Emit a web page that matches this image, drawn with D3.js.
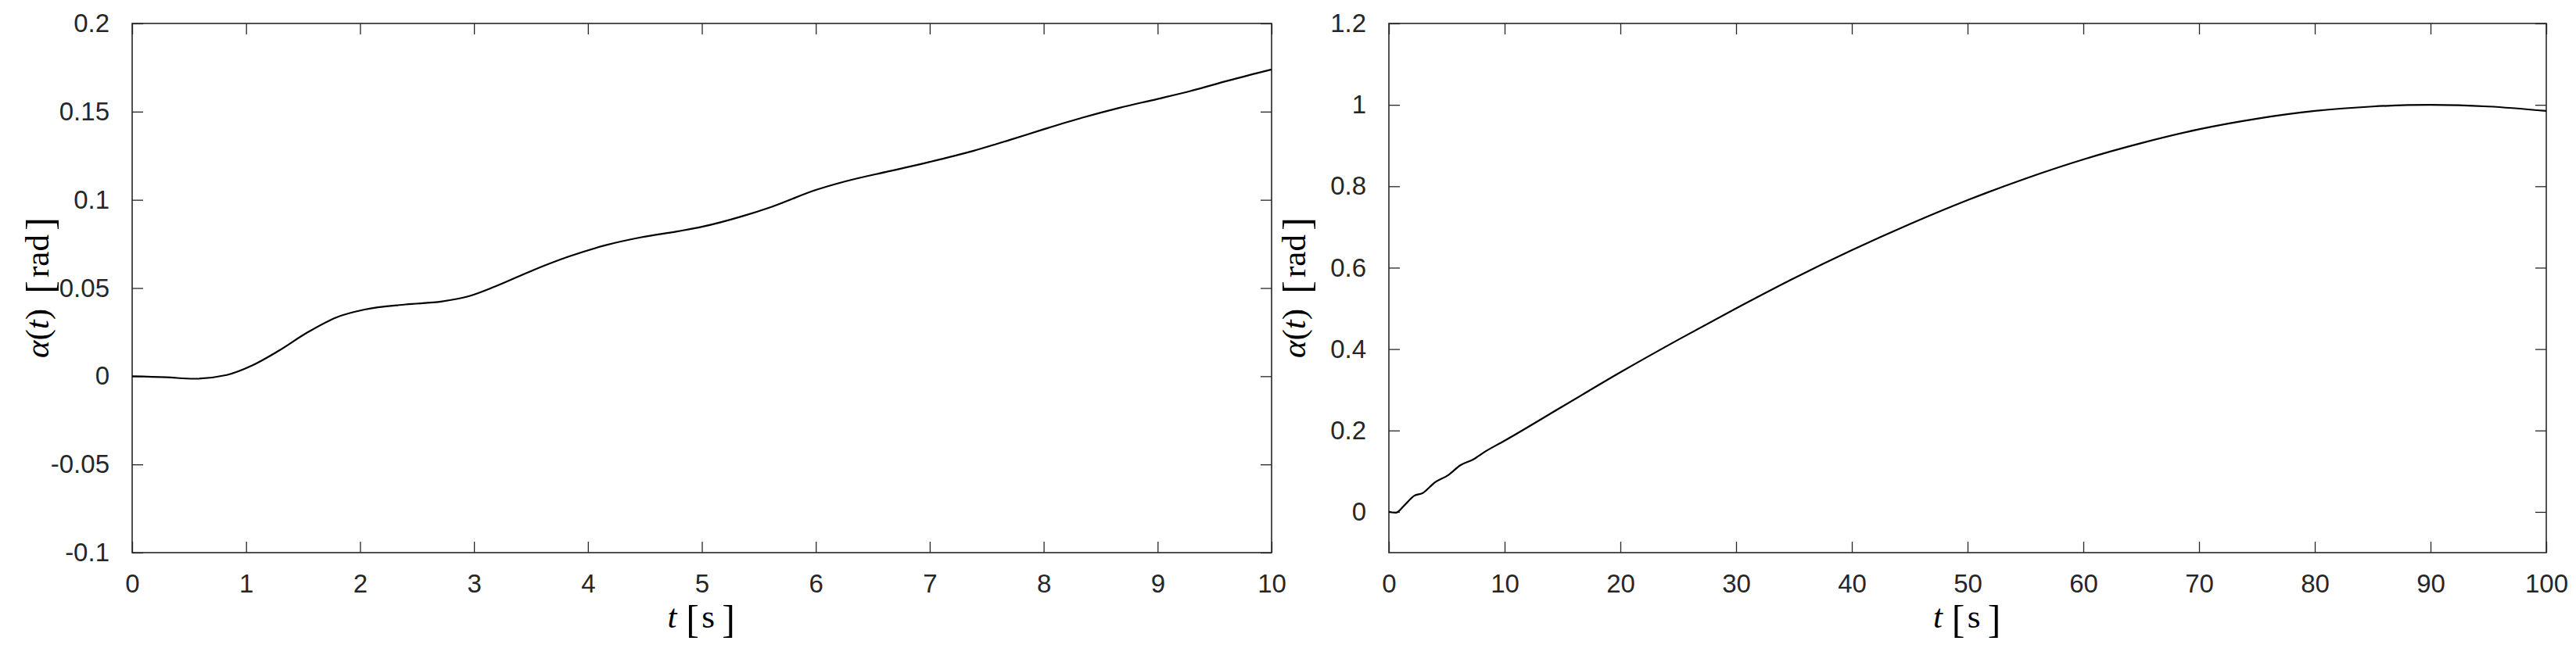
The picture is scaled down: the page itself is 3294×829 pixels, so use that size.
<!DOCTYPE html>
<html>
<head>
<meta charset="utf-8">
<script src="https://cdn.jsdelivr.net/npm/d3@7/dist/d3.min.js"></script>
<style>
  html, body { margin: 0; padding: 0; background: #fff; }
  svg { display: block; }
</style>
</head>
<body>
<svg id="chart" width="3294" height="829"></svg>
<script>
// ---------- data ----------
const leftT = [0, 0.3, 0.54, 0.83, 1.05, 1.28, 1.53, 1.79, 2.04, 2.4, 2.72, 2.94, 3.19, 3.51, 3.83, 4.15, 4.47, 4.79, 5.0, 5.36, 5.61, 6.0, 6.26, 6.64, 7.0, 7.38, 7.7, 8.0, 8.34, 8.66, 9.0, 9.3, 9.62, 10];
const leftAlpha = [0, -0.0006, -0.0014, 0.0007, 0.006, 0.0142, 0.0245, 0.0333, 0.0378, 0.0407, 0.0424, 0.0451, 0.051, 0.0599, 0.0678, 0.0742, 0.0788, 0.0822, 0.0847, 0.0908, 0.096, 0.1056, 0.1105, 0.1162, 0.1215, 0.1277, 0.1339, 0.14, 0.1466, 0.1521, 0.1572, 0.1619, 0.1676, 0.1739];

const rightT = [0, 0.6, 1.3, 2.2, 2.9, 4.0, 5.1, 6.2, 7.3, 8.3, 10, 15, 20, 25, 30, 35, 40, 45, 50, 55, 60, 65, 70, 75, 80, 85, 90, 95, 100];
const rightAlpha = [0, -0.002, 0.015, 0.04, 0.046, 0.073, 0.09, 0.115, 0.129, 0.148, 0.175, 0.259, 0.343, 0.423, 0.50, 0.574, 0.643, 0.707, 0.766, 0.819, 0.866, 0.906, 0.94, 0.966, 0.985, 0.996, 1.0, 0.996, 0.985];

const leftXTicks = [0, 1, 2, 3, 4, 5, 6, 7, 8, 9, 10];
const leftYTicks = [-0.1, -0.05, 0, 0.05, 0.1, 0.15, 0.2];
const leftYLabels = ["-0.1", "-0.05", "0", "0.05", "0.1", "0.15", "0.2"];
const rightXTicks = [0, 10, 20, 30, 40, 50, 60, 70, 80, 90, 100];
const rightYTicks = [0, 0.2, 0.4, 0.6, 0.8, 1, 1.2];
const rightYLabels = ["0", "0.2", "0.4", "0.6", "0.8", "1", "1.2"];

const xLabelParts = [["t", "italic"], ["[", "bracket"], ["s", "normal"], ["]", "bracket"]];
const yLabelParts = [["\u03B1(t)", "mixed"], ["[", "bracket"], ["rad", "normal"], ["]", "bracket"]];

// ---------- drawing ----------
const svg = d3.select("#chart");
const axisColor = "#262626";
const tickFont = "'Liberation Sans', Arial, sans-serif";
const serif = "'Liberation Serif', 'Times New Roman', serif";
const tickLen = 14;

function labelPart(g, u, part) {
  const [txt, kind] = part;
  const t = g.append("text").attr("x", u).attr("y", kind === "bracket" ? 6 : 0)
    .attr("text-anchor", "middle").attr("fill", "#000")
    .style("font-family", serif).style("font-size", kind === "bracket" ? "50px" : "43px");
  if (kind === "italic") t.style("font-style", "italic").text(txt);
  else if (kind === "mixed") {
    t.append("tspan").style("font-style", "italic").text("\u03B1");
    t.append("tspan").text("(");
    t.append("tspan").style("font-style", "italic").text("t");
    t.append("tspan").text(")");
  } else t.text(txt);
}

function panel(opts) {
  const { left, right, top, bottom, xDomain, yDomain, xTicks, yTicks, yLabels, T, A, ylabelX } = opts;
  const x = d3.scaleLinear().domain(xDomain).range([left, right]);
  const y = d3.scaleLinear().domain(yDomain).range([bottom, top]);
  const g = svg.append("g");

  const xAxisB = d3.axisBottom(x).tickValues(xTicks).tickSizeInner(-tickLen).tickSizeOuter(0).tickPadding(tickLen + 14).tickFormat(d3.format("d"));
  const gb = g.append("g").attr("transform", `translate(0,${bottom})`).call(xAxisB);
  const xAxisT = d3.axisTop(x).tickValues(xTicks).tickSizeInner(-tickLen).tickSizeOuter(0).tickFormat("");
  const gt = g.append("g").attr("transform", `translate(0,${top})`).call(xAxisT);
  const yAxisL = d3.axisLeft(y).tickValues(yTicks).tickSizeInner(-tickLen).tickSizeOuter(0).tickPadding(tickLen + 15)
    .tickFormat((d, i) => yLabels[i]);
  const gl = g.append("g").attr("transform", `translate(${left},0)`).call(yAxisL);
  const yAxisR = d3.axisRight(y).tickValues(yTicks).tickSizeInner(-tickLen).tickSizeOuter(0).tickFormat("");
  const gr = g.append("g").attr("transform", `translate(${right},0)`).call(yAxisR);

  [gb, gt, gl, gr].forEach(a => {
    a.select(".domain").remove();
    a.selectAll(".tick line").attr("stroke", axisColor).attr("stroke-width", 1.3);
    a.selectAll(".tick text").attr("fill", axisColor).style("font-family", tickFont).style("font-size", "33px");
  });
  gb.selectAll(".tick text").attr("dy", "0.71em");

  g.append("rect").attr("x", left).attr("y", top).attr("width", right - left).attr("height", bottom - top)
    .attr("fill", "none").attr("stroke", axisColor).attr("stroke-width", 1.6);

  const data = T.map((t, i) => [t, A[i]]);
  g.append("path").datum(data)
    .attr("fill", "none").attr("stroke", "#000").attr("stroke-width", 2.2)
    .attr("d", d3.line().x(d => x(d[0])).y(d => y(d[1])).curve(d3.curveMonotoneX));

  // x label: t [s]
  const cx = (left + right) / 2;
  const xg = g.append("g").attr("transform", `translate(${cx},803)`);
  [-38, -12, 8, 34].forEach((u, i) => labelPart(xg, u, xLabelParts[i]));

  // y label: α(t) [rad]
  const cy = (top + bottom) / 2;
  const yg = g.append("g").attr("transform", `translate(${ylabelX},${cy}) rotate(-90)`);
  [-58, 1, 41, 82].forEach((u, i) => labelPart(yg, u, yLabelParts[i]));
}

panel({ left: 169, right: 1626, top: 30, bottom: 707, xDomain: [0, 10], yDomain: [-0.1, 0.2],
  xTicks: leftXTicks, yTicks: leftYTicks, yLabels: leftYLabels, T: leftT, A: leftAlpha, ylabelX: 62 });
panel({ left: 1776, right: 3256, top: 30, bottom: 707, xDomain: [0, 100], yDomain: [-0.1, 1.2],
  xTicks: rightXTicks, yTicks: rightYTicks, yLabels: rightYLabels, T: rightT, A: rightAlpha, ylabelX: 1669 });
</script>
</body>
</html>
